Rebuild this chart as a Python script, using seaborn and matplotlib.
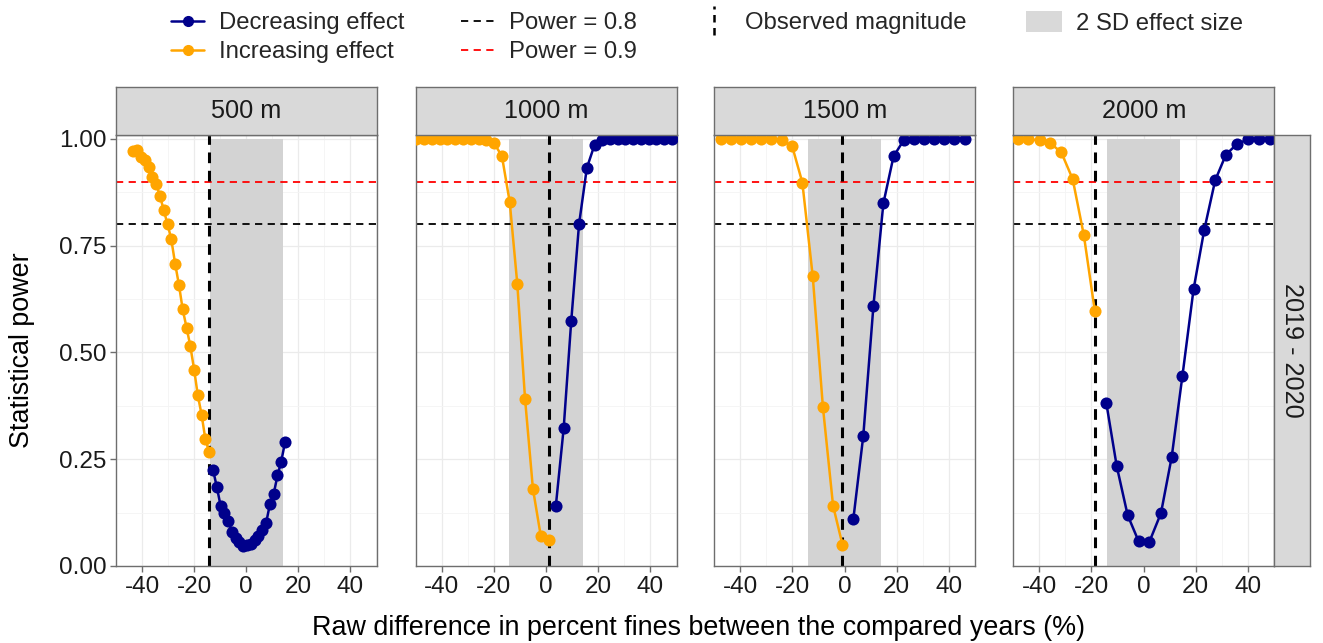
import matplotlib
matplotlib.use("Agg")
import numpy as np
import pandas as pd
import seaborn as sns
import matplotlib.pyplot as plt
from matplotlib.lines import Line2D
from matplotlib.patches import Patch
from matplotlib.legend_handler import HandlerBase

sns.set_theme(style="white")
plt.rcParams["font.family"] = ["Liberation Sans", "DejaVu Sans"]
plt.rcParams["axes.unicode_minus"] = False

# ---------------- data ----------------
distances = ["500 m", "1000 m", "1500 m", "2000 m"]
period_label = "2019 - 2020"

inc_x_500 = [-43.3, -41.8, -40.4, -38.9, -37.5, -36.0, -34.6, -33.1, -31.7, -30.2, -28.8,
             -27.3, -25.8, -24.4, -22.9, -21.5, -20.0, -18.6, -17.1, -15.7, -14.2]
inc_y_500 = [0.972, 0.975, 0.958, 0.950, 0.934, 0.911, 0.895, 0.866, 0.834, 0.800, 0.766,
             0.708, 0.657, 0.601, 0.558, 0.516, 0.460, 0.400, 0.353, 0.297, 0.266]
dec_x_500 = [-12.7, -11.3, -9.8, -8.4, -6.9, -5.5, -4.0, -2.6, -1.1, 0.3, 1.8, 3.2, 4.7,
             6.2, 7.6, 9.1, 10.5, 12.0, 13.4, 14.9]
dec_y_500 = [0.224, 0.185, 0.140, 0.124, 0.105, 0.080, 0.066, 0.056, 0.048, 0.050, 0.052,
             0.060, 0.070, 0.084, 0.100, 0.145, 0.168, 0.212, 0.244, 0.290]

inc_x_1000 = [-49.7, -46.7, -43.7, -40.7, -37.8, -34.8, -31.8, -28.8, -25.8, -22.9, -19.9,
              -16.9, -13.9, -11.0, -8.0, -5.0, -2.0, 1.0]
inc_y_1000 = [0.999, 0.999, 0.999, 0.999, 0.999, 0.999, 0.999, 0.999, 0.999, 0.998, 0.990,
              0.960, 0.852, 0.661, 0.390, 0.181, 0.071, 0.060]
dec_x_1000 = [3.8, 6.8, 9.7, 12.7, 15.7, 18.7, 21.6, 24.6, 27.6, 30.5, 33.5, 36.5, 39.4,
              42.4, 45.4, 48.4]
dec_y_1000 = [0.141, 0.322, 0.573, 0.800, 0.932, 0.987, 0.998, 0.999, 0.999, 0.999, 0.999,
              0.999, 0.999, 0.999, 0.999, 0.999]

inc_x_1500 = [-47.4, -43.6, -39.7, -35.8, -32.0, -28.1, -24.1, -20.1, -16.2, -12.2, -8.3,
              -4.4, -0.8]
inc_y_1500 = [0.999, 0.999, 0.999, 0.999, 0.999, 0.999, 0.997, 0.983, 0.898, 0.678, 0.372,
              0.141, 0.050]
dec_x_1500 = [3.4, 7.2, 11.1, 14.9, 18.8, 22.7, 26.6, 30.5, 34.4, 38.3, 42.2, 46.1]
dec_y_1500 = [0.111, 0.305, 0.610, 0.849, 0.959, 0.997, 0.999, 0.999, 0.999, 0.999, 0.999,
              0.999]

inc_x_2000 = [-48.3, -44.2, -39.9, -35.8, -31.6, -27.2, -22.9, -18.7]
inc_y_2000 = [1.000, 0.999, 0.997, 0.990, 0.969, 0.906, 0.774, 0.597]
dec_x_2000 = [-14.3, -10.3, -6.1, -1.9, 2.2, 6.7, 10.8, 14.9, 19.2, 23.3, 27.5, 31.6, 36.0,
              40.2, 44.2, 48.5]
dec_y_2000 = [0.382, 0.234, 0.119, 0.058, 0.056, 0.124, 0.255, 0.444, 0.648, 0.787, 0.903,
              0.963, 0.989, 0.999, 1.000, 1.000]

observed = [-14.2, 1.0, -0.8, -18.7]
sd_half = [14.1, 14.1, 14.1, 14.1]
power_levels = [0.8, 0.9]

series = {
    "500 m": (inc_x_500, inc_y_500, dec_x_500, dec_y_500),
    "1000 m": (inc_x_1000, inc_y_1000, dec_x_1000, dec_y_1000),
    "1500 m": (inc_x_1500, inc_y_1500, dec_x_1500, dec_y_1500),
    "2000 m": (inc_x_2000, inc_y_2000, dec_x_2000, dec_y_2000),
}
rows = []
for d, (ix, iy, dx, dy) in series.items():
    rows += [(d, "Increasing effect", x, y) for x, y in zip(ix, iy)]
    rows += [(d, "Decreasing effect", x, y) for x, y in zip(dx, dy)]
df = pd.DataFrame(rows, columns=["distance", "effect", "diff", "power"])

palette = {"Decreasing effect": "#00008B", "Increasing effect": "#FFA500"}

# ---------------- layout ----------------
W, H = 1323, 643
fig = plt.figure(figsize=(W / 100, H / 100), dpi=100)
fig.patch.set_facecolor("white")


def fx(px):
    return px / W


def fy(py):
    return 1 - py / H


FS_TICK = 17.5
FS_STRIP = 18.2
FS_TITLE = 19.4
FS_LEG = 17.2
border = "#6E6E6E"
panel_left = [116, 415.7, 714.3, 1013.3]
pw = 261
top, bottom = 134.7, 566
strip_top = 87

for i, d in enumerate(distances):
    ax = fig.add_axes([fx(panel_left[i]), fy(bottom), pw / W, (bottom - top) / H])
    ax.set_facecolor("white")
    ax.set_xlim(-49.9, 50.2)
    ax.set_ylim(0, 1.01)
    ax.set_xticks([-40, -20, 0, 20, 40])
    ax.set_xticks([-50, -30, -10, 10, 30, 50], minor=True)
    ax.set_yticks([0, 0.25, 0.5, 0.75, 1.0])
    ax.set_yticks([0.125, 0.375, 0.625, 0.875], minor=True)
    ax.set_axisbelow(True)
    ax.grid(which="major", color="#EBEBEB", lw=0.9, zorder=0)
    ax.grid(which="minor", color="#F4F4F4", lw=0.6, zorder=0)

    ax.fill_betweenx([0, 1.0], -sd_half[i], sd_half[i], color="#D3D3D3", lw=0, zorder=1)
    ax.axhline(power_levels[0], color="black", lw=1.3, ls=(0, (4, 3)), zorder=2)
    ax.axhline(power_levels[1], color="#FF0000", lw=1.3, ls=(0, (4, 3)), zorder=2)
    ax.axvline(observed[i], color="black", lw=2.2, ls=(0, (3.5, 2.5)), zorder=2)

    sub = df[df["distance"] == d]
    sns.lineplot(data=sub, x="diff", y="power", hue="effect",
                 hue_order=["Increasing effect", "Decreasing effect"],
                 palette=palette, marker="o", markersize=8.7, markeredgewidth=0,
                 lw=1.8, errorbar=None, legend=False, ax=ax, zorder=3)
    ax.set_xlabel("")
    ax.set_ylabel("")

    for s in ax.spines.values():
        s.set_color(border)
        s.set_linewidth(1.0)
    ax.tick_params(axis="x", which="major", bottom=True, length=4, width=1, color=border,
                   labelsize=FS_TICK, labelcolor="#1A1A1A", pad=3)
    ax.tick_params(axis="both", which="minor", length=0)
    if i == 0:
        ax.tick_params(axis="y", which="major", left=True, length=4, width=1, color=border,
                       labelsize=FS_TICK, labelcolor="#1A1A1A", pad=3)
        ax.set_yticklabels(["0.00", "0.25", "0.50", "0.75", "1.00"])
    else:
        ax.tick_params(axis="y", which="major", left=False, labelleft=False)

    # facet strip
    sax = fig.add_axes([fx(panel_left[i]), fy(top), pw / W, (top - strip_top) / H])
    sax.set_facecolor("#D9D9D9")
    sax.set_xticks([])
    sax.set_yticks([])
    for s in sax.spines.values():
        s.set_color(border)
        s.set_linewidth(1.0)
    sax.text(0.5, 0.5, d, ha="center", va="center", fontsize=FS_STRIP, color="#1A1A1A",
             transform=sax.transAxes)

# right strip
rax = fig.add_axes([fx(1274.3), fy(bottom), (1310 - 1274.3) / W, (bottom - top) / H])
rax.set_facecolor("#D9D9D9")
rax.set_xticks([])
rax.set_yticks([])
for s in rax.spines.values():
    s.set_color(border)
    s.set_linewidth(1.0)
rax.text(0.5, 0.5, period_label, rotation=-90, ha="center", va="center", fontsize=FS_STRIP,
         color="#1A1A1A", transform=rax.transAxes)

fig.text(fx(22), fy(350), "Statistical power", rotation=90, ha="center", va="center",
         fontsize=FS_TITLE, color="black")
fig.text(fx(698), fy(628), "Raw difference in percent fines between the compared years (%)",
         ha="center", va="center", fontsize=FS_TITLE, color="black")


# ---------------- legends ----------------
class VLineHandler(HandlerBase):
    def create_artists(self, legend, orig_handle, xdescent, ydescent, width, height,
                       fontsize, trans):
        x = width / 2 - xdescent
        ln = Line2D([x, x], [-ydescent - height * 0.35, height * 1.35 - ydescent],
                    color="black", lw=1.8, ls=(0, (3, 2.2)), transform=trans)
        return [ln]


common = dict(frameon=False, fontsize=FS_LEG, loc="upper left", borderpad=0,
              labelspacing=0.3, handletextpad=0.6, borderaxespad=0)

h1 = [Line2D([], [], color=palette["Decreasing effect"], marker="o", ms=7, lw=1.8),
      Line2D([], [], color=palette["Increasing effect"], marker="o", ms=7, lw=1.8)]
fig.legend(h1, ["Decreasing effect", "Increasing effect"], handlelength=1.4,
           bbox_to_anchor=(fx(171), fy(12)), **common)

h2 = [Line2D([], [], color="black", lw=1.3, ls=(0, (4, 3))),
      Line2D([], [], color="#FF0000", lw=1.3, ls=(0, (4, 3)))]
fig.legend(h2, ["Power = 0.8", "Power = 0.9"], handlelength=1.4,
           bbox_to_anchor=(fx(461), fy(12)), **common)

h3 = [Line2D([], [], color="black")]
fig.legend(h3, ["Observed magnitude"], handlelength=1.4,
           handler_map={Line2D: VLineHandler()},
           bbox_to_anchor=(fx(697), fy(12)), **common)

h4 = [Patch(facecolor="#D9D9D9", edgecolor="none")]
fig.legend(h4, ["2 SD effect size"], handlelength=1.5, handleheight=1.0,
           bbox_to_anchor=(fx(1026), fy(11)), **common)

fig.savefig("out.png", dpi=100, facecolor="white")
